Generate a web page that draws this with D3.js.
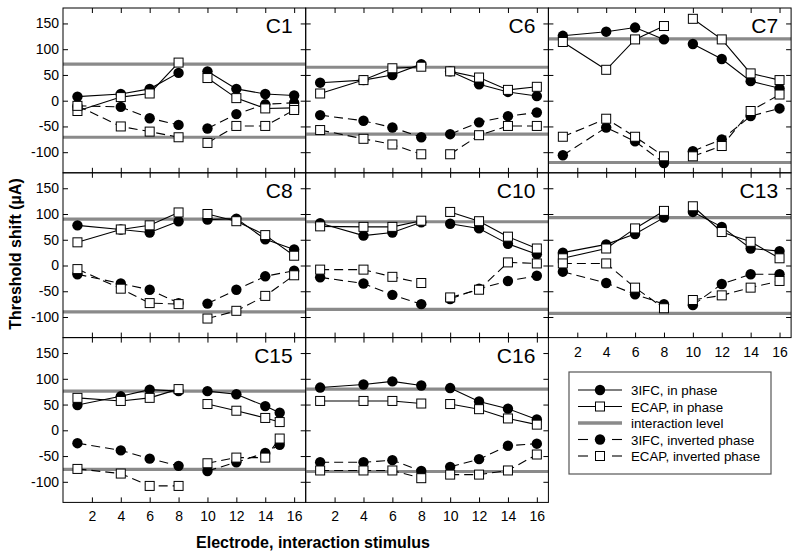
<!DOCTYPE html>
<html>
<head>
<meta charset="utf-8">
<script src="https://cdn.jsdelivr.net/npm/d3@7"></script>
<style>
  html, body { margin: 0; padding: 0; background: #fff; }
  svg { display: block; }
  text { font-family: "Liberation Sans", Arial, sans-serif; fill: #000; }
</style>
</head>
<body>
<svg id="chart" width="800" height="554"></svg>
<script>
// ---------- DATA ----------
const panelNames = ["C1", "C6", "C7", "C8", "C10", "C13", "C15", "C16"];
const electrodes = [1, 4, 6, 8, 10, 12, 14, 16];
const electrodesC15 = [1, 4, 6, 8, 10, 12, 14, 15];
const interactionLevel = [71, 65, 120, 90, 85, 93, 76, 80];

const ifcInPhase = [
  [8, 13, 23, 54, 57, 23, 13, 10],
  [35, 40, 50, 71, 57, 32, 17, 9],
  [126, 134, 142, 119, 110, 81, 38, 24],
  [78, 70, 64, 86, 89, 91, 51, 31],
  [82, 58, 64, 84, 81, 72, 42, 22],
  [25, 41, 61, 93, 104, 75, 33, 28],
  [49, 66, 79, 76, 76, 70, 47, 34],
  [83, 89, 95, 87, 82, 56, 42, 21]
];
const ecapInPhase = [
  [-20, 7, 14, 74, 44, 5, -15, -14],
  [14, 40, 63, 66, 57, 45, 21, 27],
  [114, 60, 119, 145, 159, 119, 53, 40],
  [45, 70, 78, 103, 100, 86, 59, 19],
  [76, 75, 75, 87, 104, 86, 56, 33],
  [14, 33, 72, 106, 115, 65, 46, 14],
  [63, 57, 63, 80, 51, 38, 24, 16],
  [57, 57, 57, 52, 51, 41, 23, 11]
];
const ifcInverted = [
  [-10, -12, -34, -47, -54, -26, -7, -4],
  [-28, -39, -52, -71, -65, -42, -30, -23],
  [-106, -52, -79, -121, -98, -75, -30, -15],
  [-17, -35, -47, -73, -74, -47, -21, -10],
  [-23, -35, -57, -75, -65, -45, -30, -20],
  [-12, -34, -56, -75, -77, -36, -17, -17],
  [-25, -39, -55, -69, -79, -62, -44, -28],
  [-62, -62, -58, -79, -71, -56, -30, -26]
];
const ecapInverted = [
  [-10, -50, -60, -71, -82, -49, -49, -18],
  [-57, -74, -85, -104, -104, -67, -49, -49],
  [-70, -35, -70, -108, -108, -88, -20, 12],
  [-7, -45, -73, -75, -103, -88, -59, -19],
  [-8, -8, -22, -34, -62, -47, 6, 4],
  [4, 4, -43, -83, -67, -58, -43, -30],
  [-75, -84, -108, -108, -64, -53, -53, -16],
  [-78, -78, -78, -93, -86, -86, -78, -47]
];
const yTicks = [-100, -50, 0, 50, 100, 150];
const xTicks = [2, 4, 6, 8, 10, 12, 14, 16];
const legendLabels = ["3IFC, in phase", "ECAP, in phase", "interaction level", "3IFC, inverted phase", "ECAP, inverted phase"];

// ---------- LAYOUT ----------
const svg = d3.select("#chart");
const left0 = 63, top0 = 8, colW = 242.7, rowH = 164.8;
const x = d3.scaleLinear().domain([0, 16.8]).range([0, colW]);
const y = d3.scaleLinear().domain([-140, 180]).range([rowH, 0]);
const grayCol = "#8a8a8a";
const dash = "9,5";

const seriesDefs = [
  { data: ifcInPhase, dashed: false, marker: "circle" },
  { data: ecapInPhase, dashed: false, marker: "square" },
  { data: ifcInverted, dashed: true, marker: "circle" },
  { data: ecapInverted, dashed: true, marker: "square" }
];

panelNames.forEach((name, i) => {
  const col = i % 3, row = Math.floor(i / 3);
  const g = svg.append("g").attr("transform", `translate(${left0 + col * colW},${top0 + row * rowH})`);
  const xs = name === "C15" ? electrodesC15 : electrodes;

  // interaction level lines
  [interactionLevel[i], -interactionLevel[i]].forEach(v => {
    g.append("line").attr("x1", 0).attr("x2", colW).attr("y1", y(v)).attr("y2", y(v))
      .attr("stroke", grayCol).attr("stroke-width", 3.2);
  });

  // frame
  g.append("rect").attr("width", colW).attr("height", rowH)
    .attr("fill", "none").attr("stroke", "#000").attr("stroke-width", 1);

  // ticks inside on all sides using d3 axes
  g.append("g").call(d3.axisLeft(y).tickValues(yTicks).tickSizeInner(-5).tickSizeOuter(0).tickFormat(""))
    .call(a => a.select(".domain").remove());
  g.append("g").attr("transform", `translate(${colW},0)`)
    .call(d3.axisRight(y).tickValues(yTicks).tickSizeInner(-5).tickSizeOuter(0).tickFormat(""))
    .call(a => a.select(".domain").remove());
  g.append("g").call(d3.axisTop(x).tickValues(xTicks).tickSizeInner(-5).tickSizeOuter(0).tickFormat(""))
    .call(a => a.select(".domain").remove());
  g.append("g").attr("transform", `translate(0,${rowH})`)
    .call(d3.axisBottom(x).tickValues(xTicks).tickSizeInner(-5).tickSizeOuter(0).tickFormat(""))
    .call(a => a.select(".domain").remove());

  // y labels on left column
  if (col === 0) {
    const ay = g.append("g").call(d3.axisLeft(y).tickValues(yTicks).tickSize(0).tickPadding(4).tickFormat(d => String(d)));
    ay.select(".domain").remove();
    ay.selectAll("text").attr("font-size", 14).attr("font-family", "Liberation Sans, Arial, sans-serif");
  }
  // x labels under the bottom-most panel of each column
  if (row === 2 || (row === 1 && col === 2)) {
    const ax = g.append("g").attr("transform", `translate(0,${rowH})`)
      .call(d3.axisBottom(x).tickValues(xTicks).tickSize(0).tickPadding(9).tickFormat(d => String(d)));
    ax.select(".domain").remove();
    ax.selectAll("text").attr("font-size", 14).attr("font-family", "Liberation Sans, Arial, sans-serif");
  }

  // panel label
  g.append("text").attr("x", colW - 13).attr("y", 25).attr("text-anchor", "end")
    .attr("font-size", 21).text(name);

  // lines (gap between electrodes 8 and 10)
  const line = d3.line().x(d => x(d[0])).y(d => y(d[1]));
  seriesDefs.forEach(s => {
    const pts = xs.map((e, k) => [e, s.data[i][k]]);
    [pts.slice(0, 4), pts.slice(4)].forEach(seg => {
      g.append("path").attr("d", line(seg)).attr("fill", "none")
        .attr("stroke", "#000").attr("stroke-width", 1.1)
        .attr("stroke-dasharray", s.dashed ? dash : null);
    });
  });
  // circles then squares
  seriesDefs.filter(s => s.marker === "circle").forEach(s => {
    g.selectAll(null).data(xs.map((e, k) => [e, s.data[i][k]])).enter()
      .append("circle").attr("cx", d => x(d[0])).attr("cy", d => y(d[1])).attr("r", 5.2)
      .attr("fill", "#000");
  });
  seriesDefs.filter(s => s.marker === "square").forEach(s => {
    g.selectAll(null).data(xs.map((e, k) => [e, s.data[i][k]])).enter()
      .append("rect").attr("x", d => x(d[0]) - 4.5).attr("y", d => y(d[1]) - 4.5)
      .attr("width", 9).attr("height", 9)
      .attr("fill", "#fff").attr("stroke", "#000").attr("stroke-width", 1);
  });
});

// axis titles
svg.append("text").attr("transform", "translate(21,254) rotate(-90)")
  .attr("text-anchor", "middle").attr("font-size", 16).attr("font-weight", "bold")
  .text("Threshold shift (\u00b5A)");
svg.append("text").attr("x", 313).attr("y", 548)
  .attr("text-anchor", "middle").attr("font-size", 16).attr("font-weight", "bold")
  .text("Electrode, interaction stimulus");

// legend
const lg = svg.append("g").attr("transform", "translate(569,372)");
lg.append("rect").attr("width", 202).attr("height", 102).attr("fill", "#fff")
  .attr("stroke", "#555").attr("stroke-width", 1.2);
const legendStyle = [
  { dashed: false, marker: "circle", gray: false },
  { dashed: false, marker: "square", gray: false },
  { dashed: false, marker: null, gray: true },
  { dashed: true, marker: "circle", gray: false },
  { dashed: true, marker: "square", gray: false }
];
legendLabels.forEach((lab, k) => {
  const cy = 18 + k * 16.5;
  const st = legendStyle[k];
  if (st.gray) {
    lg.append("line").attr("x1", 9).attr("x2", 53).attr("y1", cy).attr("y2", cy)
      .attr("stroke", grayCol).attr("stroke-width", 3.5);
  } else if (st.dashed) {
    [[9, 19], [43, 53]].forEach(p => lg.append("line").attr("x1", p[0]).attr("x2", p[1])
      .attr("y1", cy).attr("y2", cy).attr("stroke", "#000").attr("stroke-width", 1.1));
  } else {
    lg.append("line").attr("x1", 9).attr("x2", 53).attr("y1", cy).attr("y2", cy)
      .attr("stroke", "#000").attr("stroke-width", 1.1);
  }
  if (st.marker === "circle") {
    lg.append("circle").attr("cx", 31).attr("cy", cy).attr("r", 5.2).attr("fill", "#000");
  } else if (st.marker === "square") {
    lg.append("rect").attr("x", 26.5).attr("y", cy - 4.5).attr("width", 9).attr("height", 9)
      .attr("fill", "#fff").attr("stroke", "#000");
  }
  lg.append("text").attr("x", 62).attr("y", cy + 5).attr("font-size", 13.3).text(lab);
});
</script>
</body>
</html>
